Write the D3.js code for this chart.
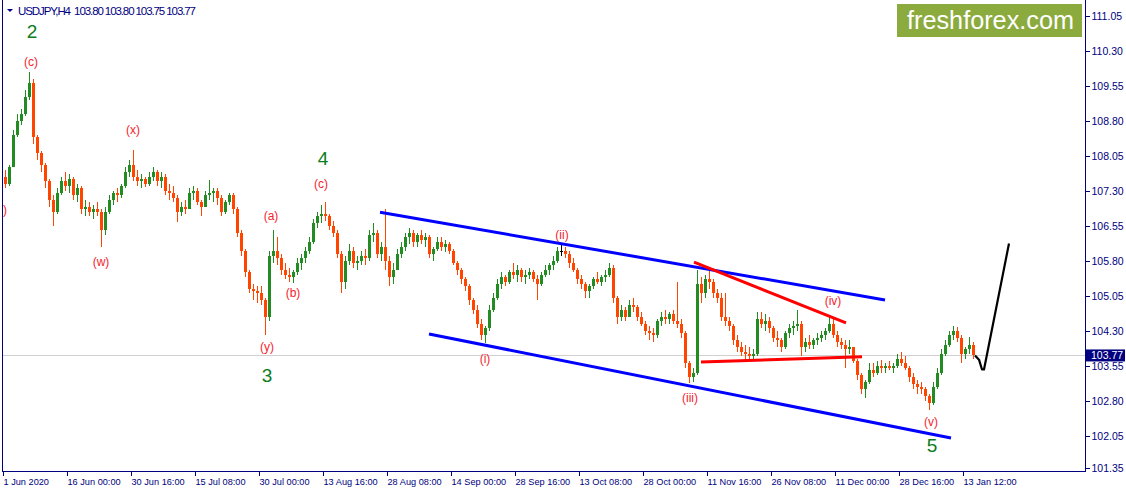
<!DOCTYPE html>
<html><head><meta charset="utf-8">
<script src="https://cdn.jsdelivr.net/npm/d3@7"></script>
<style>body{margin:0;background:#fff}svg{display:block}</style>
</head><body>
<svg id="c" width="1126" height="492"></svg>
<script>
const symbolTitle = "USDJPY,H4\u00a0\u00a0103.80 103.80 103.75 103.77";
const barsPerCandle = 4;
const firstOpen = 107.60;
const highs = [107.75,107.85,108.6,108.95,109.05,109.45,109.85,109.7,108.5,108.15,
107.9,107.55,107.2,107.35,107.6,107.7,107.65,107.6,107.45,107.4,
107.1,107.05,107.0,107.05,106.9,106.95,107.2,107.3,107.35,107.45,
107.8,107.95,108.17,107.75,107.65,107.6,107.7,107.8,107.75,107.7,
107.65,107.45,107.4,107.2,107.05,107.1,107.35,107.4,107.35,107.1,
107.3,107.53,107.35,107.35,107.2,107.1,107.25,107.25,106.95,106.45,
106.05,105.6,105.3,105.25,105.25,105.0,106.0,106.45,106.3,105.95,
105.75,105.65,105.6,105.85,105.95,106.1,106.3,106.7,106.85,107.0,
107.05,106.8,106.65,106.45,106.0,105.9,106.15,106.1,105.9,106.0,
106.05,106.45,106.6,106.45,106.2,106.9,105.9,105.75,106.05,106.2,
106.4,106.5,106.45,106.4,106.45,106.4,106.35,106.1,106.3,106.3,
106.25,106.2,106.05,105.8,105.65,105.45,105.3,105.0,104.85,104.55,
104.4,104.85,105.1,105.4,105.55,105.5,105.6,105.75,105.7,105.65,
105.6,105.65,105.6,105.5,105.55,105.7,105.75,105.9,106.1,106.15,
106.1,106.0,105.85,105.65,105.5,105.35,105.3,105.45,105.55,105.5,
105.6,105.75,105.7,105.05,104.85,104.8,104.95,105.0,104.85,104.7,
104.5,104.4,104.35,104.55,104.7,104.75,104.7,104.75,105.35,104.55,
104.3,103.65,103.5,105.6,105.45,105.5,105.6,105.4,105.2,105.1,
105.1,104.6,104.45,104.2,104.05,104.0,103.95,103.9,104.7,104.7,
104.65,104.6,104.4,104.3,104.15,104.3,104.45,104.5,104.75,104.5,
104.15,104.2,104.15,104.25,104.3,104.35,104.6,104.55,104.3,104.15,
104.1,104.1,103.95,103.7,103.4,103.25,103.6,103.6,103.65,103.67,
103.6,103.65,103.6,103.8,103.85,103.75,103.55,103.4,103.25,103.2,
103.1,102.95,103.2,103.5,103.9,104.1,104.3,104.4,104.38,104.2,
103.95,104.17,104.05];
const lows = [107.35,107.4,107.8,108.45,108.7,108.9,109.25,108.3,107.95,107.7,
107.35,106.95,106.55,106.8,107.2,107.3,107.25,107.1,107.05,106.8,
106.75,106.75,106.7,106.75,106.1,106.35,106.8,107.0,107.05,107.15,
107.35,107.6,107.5,107.4,107.35,107.38,107.4,107.5,107.4,107.35,
107.2,107.1,107.05,106.63,106.75,106.8,106.9,107.1,107.0,106.75,
106.95,107.1,107.05,107.0,106.75,106.8,107.0,106.8,106.3,105.9,
105.45,105.1,104.95,104.9,104.85,104.2,104.5,105.75,105.7,105.5,
105.4,105.35,105.32,105.5,105.6,105.75,105.95,106.15,106.5,106.6,
106.65,106.45,106.3,105.85,105.1,105.2,105.7,105.65,105.6,105.7,
105.7,105.8,106.2,105.85,105.8,105.6,105.25,105.3,105.6,105.85,
106.0,106.15,106.1,106.1,106.15,106.1,105.85,105.8,106.0,106.0,
105.98,105.95,105.7,105.5,105.3,105.15,104.85,104.65,104.35,104.1,
104.03,104.3,104.7,104.95,105.2,105.25,105.3,105.4,105.35,105.35,
105.3,105.4,105.35,104.95,105.25,105.45,105.5,105.6,105.75,105.9,
105.85,105.65,105.55,105.3,105.2,105.0,105.0,105.2,105.3,105.25,
105.35,105.45,104.9,104.45,104.5,104.5,104.6,104.7,104.5,104.4,
104.2,104.1,104.05,104.15,104.4,104.45,104.45,104.45,104.35,104.15,
103.5,103.18,103.2,103.35,104.9,105.0,105.2,105.0,104.9,104.5,
104.4,104.3,104.0,103.85,103.75,103.68,103.67,103.67,103.75,104.35,
104.3,104.25,104.05,103.95,103.85,103.9,104.15,104.2,104.3,103.75,
103.85,103.9,103.9,104.0,104.05,104.1,104.25,104.15,103.95,103.9,
103.5,103.8,103.6,103.25,102.95,102.85,103.15,103.3,103.35,103.4,
103.4,103.45,103.4,103.5,103.55,103.45,103.2,103.05,102.95,102.95,
102.8,102.6,102.7,103.05,103.35,103.75,103.95,104.1,104.05,103.6,
103.7,103.8,103.7];
const closes = [107.45,107.8,108.5,108.8,108.95,109.3,109.6,108.45,108.1,107.85,
107.5,107.1,106.85,107.25,107.5,107.4,107.55,107.2,107.35,106.9,
106.95,106.85,106.9,106.85,106.45,106.85,107.1,107.25,107.2,107.4,
107.7,107.85,107.6,107.5,107.55,107.45,107.6,107.7,107.5,107.6,
107.3,107.25,107.15,106.85,106.95,106.9,107.25,107.3,107.05,106.95,
107.2,107.25,107.3,107.15,106.85,107.05,107.2,106.9,106.4,106.0,
105.55,105.2,105.15,105.1,104.95,104.6,105.9,106.0,105.85,105.6,
105.5,105.45,105.55,105.75,105.85,106.0,106.2,106.6,106.75,106.8,
106.75,106.55,106.4,105.95,105.35,105.8,106.0,105.75,105.8,105.9,
105.85,106.35,106.4,105.95,106.1,105.8,105.45,105.6,105.95,106.1,
106.3,106.4,106.2,106.35,106.25,106.3,105.95,106.05,106.2,106.1,
106.15,106.0,105.75,105.6,105.4,105.25,104.95,104.75,104.45,104.2,
104.35,104.75,105.0,105.3,105.45,105.35,105.55,105.5,105.6,105.45,
105.5,105.55,105.4,105.3,105.5,105.6,105.7,105.8,106.0,106.0,
105.95,105.75,105.6,105.4,105.3,105.15,105.25,105.4,105.35,105.45,
105.5,105.65,105.0,104.6,104.75,104.6,104.85,104.8,104.6,104.45,
104.3,104.25,104.2,104.5,104.6,104.55,104.65,104.5,104.45,104.25,
103.6,103.3,103.4,105.3,105.1,105.4,105.35,105.1,105.0,104.6,
104.5,104.4,104.1,103.95,103.85,103.8,103.75,103.8,104.55,104.45,
104.5,104.35,104.15,104.1,103.95,104.25,104.35,104.4,104.45,103.95,
104.05,104.0,104.1,104.15,104.2,104.3,104.45,104.2,104.05,104.0,
103.9,103.95,103.65,103.35,103.05,103.2,103.45,103.4,103.55,103.5,
103.55,103.5,103.55,103.7,103.6,103.5,103.3,103.15,103.1,103.05,
102.9,102.75,103.1,103.4,103.8,104.0,104.2,104.3,104.15,103.8,
103.9,104.0,103.77];

const timeTicks = [0,64,128,192,256,320,384,448,512,576,640,704,768,832,896,960];
const timeLabels = ["1 Jun 2020","16 Jun 00:00","30 Jun 16:00","15 Jul 08:00","30 Jul 00:00","13 Aug 16:00","28 Aug 08:00","14 Sep 00:00","28 Sep 16:00","13 Oct 08:00","28 Oct 00:00","11 Nov 16:00","26 Nov 08:00","11 Dec 00:00","28 Dec 16:00","13 Jan 12:00"];
const priceTicks = [111.05,110.30,109.55,108.80,108.05,107.30,106.55,105.80,105.05,104.30,103.55,102.80,102.05,101.35];
const lastPrice = 103.77;

const projection = [[972,103.77],[976,103.68],[979,103.47],[981,103.47],[1006,106.17]];
const channelUpper = [[377,106.84],[882,104.96]];
const channelLower = [[426,104.23],[948,102.00]];
const triangleUpper = [[691,105.77],[843,104.47]];
const triangleLower = [[698,103.63],[859,103.74]];

const waveText  = ["2","(c)","(x)","(w)",")","(y)","3","(a)","(b)","(c)","4","(ii)","(i)","(iii)","(iv)","(v)","5"];
const waveBar   = [29,28,130,98,0,264,264,268,290,318,320,559,482,687,830,928,929];
const wavePrice = [110.72,110.06,108.60,105.77,106.88,103.95,103.33,106.76,105.10,107.45,108.00,106.35,103.70,102.86,104.94,102.34,101.85];
const waveMajor = [1,0,0,0,0,0,1,0,0,0,1,0,0,0,0,0,1];

const svg = d3.select("#c");
const navy = "#000080";
const font = "'Liberation Sans', Arial, sans-serif";
const L = 3, R = 1085, T = 1, B = 471;

const x = d3.scaleLinear().domain([0, 1082]).range([L, R]);
const y = d3.scaleLinear().domain([101.35, 111.05]).range([468.4, 15.7]);

svg.append("rect").attr("width",1126).attr("height",492).attr("fill","#fff");
svg.append("defs").append("clipPath").attr("id","plot")
  .append("rect").attr("x",L).attr("y",T).attr("width",R-L).attr("height",B-T);

const plot = svg.append("g").attr("clip-path","url(#plot)");

// last price line
plot.append("line").attr("x1",L).attr("x2",R)
  .attr("y1",Math.round(y(lastPrice))+0.5).attr("y2",Math.round(y(lastPrice))+0.5)
  .attr("stroke","#d0d0d0").attr("stroke-width",1);

// candles
const candles = closes.map((c,i)=>({
  o: i===0 ? firstOpen : closes[i-1], c, h: highs[i], l: lows[i],
  bar: i*barsPerCandle + barsPerCandle/2
}));
const cg = plot.append("g").attr("shape-rendering","crispEdges");
candles.forEach(d=>{
  const col = d.c > d.o ? "#228b22" : (d.c < d.o ? "#ff4500" : "#000");
  const cx = Math.round(x(d.bar));
  const hi = Math.max(d.h,d.o,d.c), lo = Math.min(d.l,d.o,d.c);
  cg.append("line").attr("x1",cx+0.5).attr("x2",cx+0.5)
    .attr("y1",y(hi)).attr("y2",y(lo)).attr("stroke",col).attr("stroke-width",1);
  const top = y(Math.max(d.o,d.c)), bot = y(Math.min(d.o,d.c));
  cg.append("rect").attr("x",cx-1).attr("width",3)
    .attr("y",top).attr("height",Math.max(1,bot-top)).attr("fill",col);
});

const line = d3.line().x(d=>x(d[0])).y(d=>y(d[1]));
[[channelUpper,"#0000ff",3],[channelLower,"#0000ff",3],[triangleUpper,"#ff0000",3],[triangleLower,"#ff0000",3]]
  .forEach(([pts,col,w])=>{
    plot.append("path").attr("d",line(pts)).attr("fill","none").attr("stroke",col).attr("stroke-width",w);
  });
plot.append("path").attr("d",line(projection)).attr("fill","none")
  .attr("stroke","#000").attr("stroke-width",2.2).attr("stroke-linejoin","round");

// wave labels
waveText.forEach((t,i)=>{
  plot.append("text").attr("x",x(waveBar[i])).attr("y",y(wavePrice[i]))
    .attr("text-anchor", t===")" ? "start" : "middle").attr("dominant-baseline","central")
    .attr("font-family",font)
    .attr("font-size", waveMajor[i] ? 19 : 12)
    .attr("fill", waveMajor[i] ? "#0b7d1a" : "#f5222d")
    .text(t);
});

// frame
const fg = svg.append("g").attr("shape-rendering","crispEdges").attr("stroke",navy);
fg.append("line").attr("x1",2.5).attr("x2",2.5).attr("y1",0).attr("y2",B+0.5);
fg.append("line").attr("x1",2).attr("x2",R+1).attr("y1",B+0.5).attr("y2",B+0.5);
fg.append("line").attr("x1",R+0.5).attr("x2",R+0.5).attr("y1",0).attr("y2",B+1);

// right axis
const yAxis = d3.axisRight(y).tickValues(priceTicks).tickSize(4).tickPadding(2).tickFormat(d3.format(".2f"));
const ya = svg.append("g").attr("transform",`translate(${R+0.5},0)`).call(yAxis);
ya.select(".domain").remove();
ya.selectAll(".tick line").attr("stroke",navy).attr("shape-rendering","crispEdges");
ya.selectAll(".tick text").attr("fill",navy).attr("font-family",font).attr("font-size",10.5);

// last price box
const ly = y(lastPrice);
svg.append("rect").attr("x",R+1).attr("y",ly-6).attr("width",39).attr("height",12).attr("fill",navy);
svg.append("text").attr("x",R+6).attr("y",ly).attr("dominant-baseline","central")
  .attr("fill","#fff").attr("font-family",font).attr("font-size",10.5).text(lastPrice.toFixed(2));

// bottom axis
const xAxis = d3.axisBottom(x).tickValues(timeTicks).tickSize(4).tickPadding(3)
  .tickFormat((d,i)=>timeLabels[i]);
const xa = svg.append("g").attr("transform",`translate(0,${B+0.5})`).call(xAxis);
xa.select(".domain").remove();
xa.selectAll(".tick line").attr("stroke",navy).attr("shape-rendering","crispEdges");
xa.selectAll(".tick text").attr("fill",navy).attr("font-family",font).attr("font-size",9.2)
  .attr("text-anchor","start").attr("dx",0);

// header
svg.append("path").attr("d","M7,9 L13,9 L10,12 Z").attr("fill",navy);
svg.append("text").attr("x",18).attr("y",11).attr("dominant-baseline","central")
  .attr("fill",navy).attr("font-family",font).attr("font-size",11.5)
  .attr("textLength",178).attr("lengthAdjust","spacing")
  .text(symbolTitle);

// logo
svg.append("rect").attr("x",897).attr("y",4).attr("width",185).attr("height",33).attr("fill","#8cab3e");
svg.append("text").attr("x",907).attr("y",29).attr("fill","#fff")
  .attr("font-family",font).attr("font-size",25)
  .attr("textLength",167).attr("lengthAdjust","spacingAndGlyphs").text("freshforex.com");
</script>
</body></html>
